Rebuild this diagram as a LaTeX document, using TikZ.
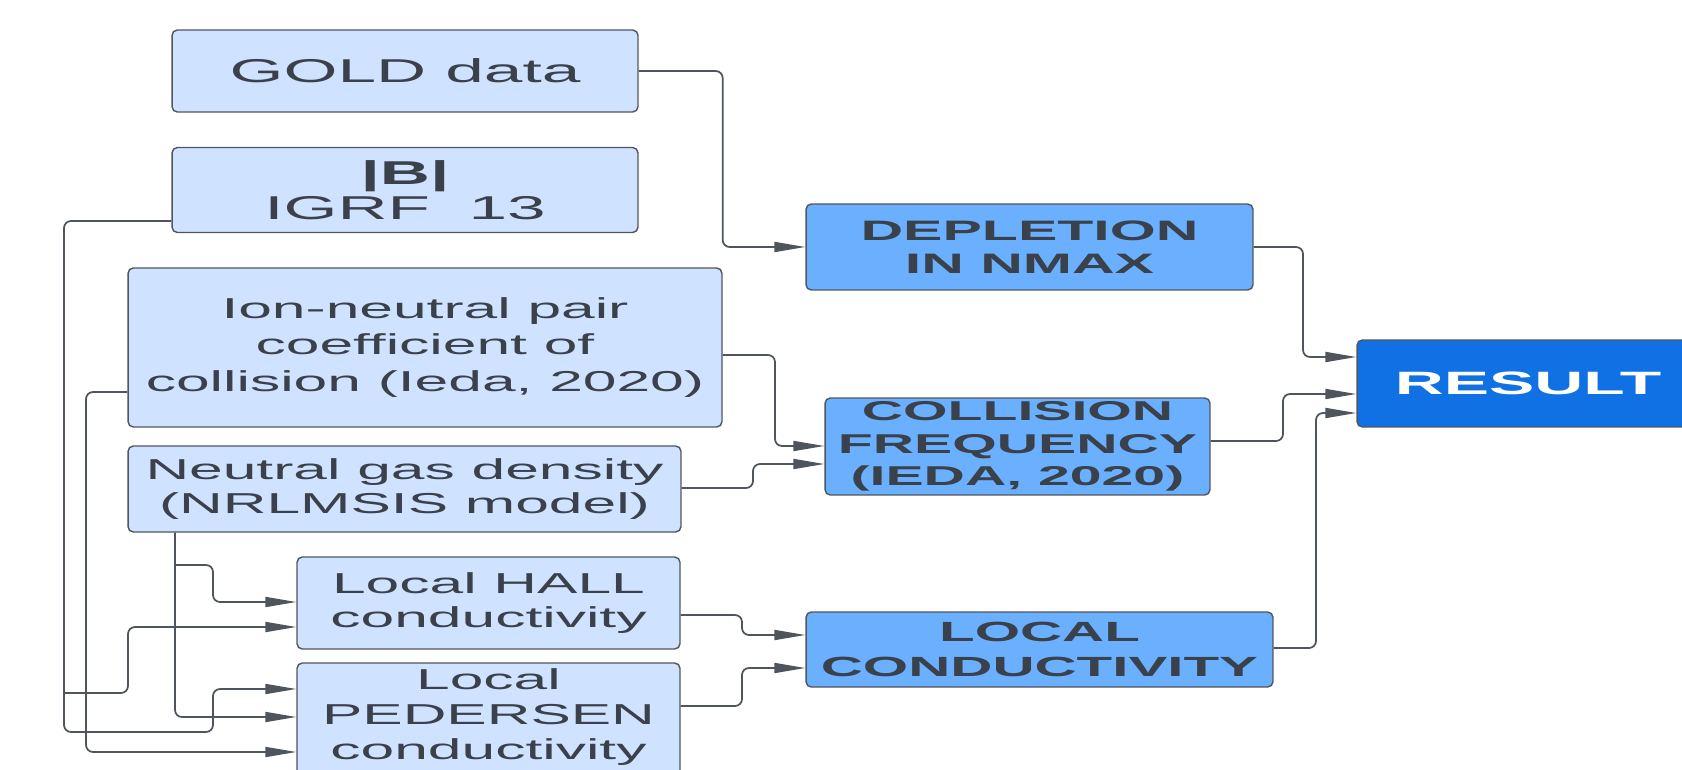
\documentclass[tikz,border=0pt]{standalone}
\usepackage{fontspec}
\usetikzlibrary{arrows.meta}

\newfontfamily\chartfont[FakeStretch=2.1]{Liberation Sans}

\definecolor{pale}{HTML}{CFE2FF}
\definecolor{mid}{HTML}{6AB0FF}
\definecolor{deep}{HTML}{1071E5}
\definecolor{edge}{HTML}{50565E}
\definecolor{ink}{HTML}{3A414A}
\definecolor{wirec}{HTML}{4F555D}

\begin{document}
\begin{tikzpicture}[x=0.02cm, y=-0.02cm,
		box/.style={draw=edge, fill=pale, rounded corners=3pt, line width=0.8pt, inner sep=0pt, align=center, text=ink},
		big/.style={font=\chartfont\fontsize{18.8}{20}\selectfont},
		small/.style={font=\chartfont\fontsize{16.4}{19.8}\selectfont},
		midbox/.style={box, fill=mid, font=\chartfont\bfseries\fontsize{16}{18.5}\selectfont},
		wire/.style={draw=wirec, line width=1pt, rounded corners=4pt},
		arr/.style={wire, -{Triangle[length=0.62cm, width=0.2cm]}}]

		\useasboundingbox (0,0) rectangle (1682,770);

		% inputs
		\draw (405,71) node[box, big, minimum width=9.32cm, minimum height=1.64cm] (gold) {GOLD data};
		\draw (405,190) node[box, big, minimum width=9.32cm, minimum height=1.7cm] (igrf) {\textbf{|B|}\\IGRF\ \ 13};
		\draw (425,347.5) node[box, font=\chartfont\fontsize{16.4}{20.6}\selectfont, minimum width=11.88cm, minimum height=3.18cm] (ion) {Ion-neutral pair\\coefficient of\\collision (Ieda, 2020)};
		\draw (404.5,489) node[box, small, minimum width=11.06cm, minimum height=1.72cm] (neutral) {Neutral gas density\\(NRLMSIS model)};
		\draw (488.5,603) node[box, small, minimum width=7.66cm, minimum height=1.84cm] (hall) {Local HALL\\conductivity};
		\draw (488.5,724) node[box, minimum width=7.66cm, minimum height=2.44cm,
			label={[small, text=ink, align=center, yshift=0.14cm]center:Local\\PEDERSEN\\conductivity}] (ped) {};

		% derived quantities
		\draw (1029.5,247) node[midbox, minimum width=8.94cm, minimum height=1.72cm] (depl) {DEPLETION\\IN NMAX};
		\draw (1017.5,446.5) node[midbox, font=\chartfont\bfseries\fontsize{15.5}{18.5}\selectfont, minimum width=7.7cm, minimum height=1.94cm] (coll) {COLLISION\\FREQUENCY\\(IEDA, 2020)};
		\draw (1039.5,649.5) node[midbox, font=\chartfont\bfseries\fontsize{15.8}{19.5}\selectfont, minimum width=9.34cm, minimum height=1.5cm] (cond) {LOCAL\\CONDUCTIVITY};
		\draw (1528,383.5) node[box, fill=deep, text=white, font=\chartfont\bfseries\fontsize{18.4}{20}\selectfont, minimum width=6.84cm, minimum height=1.74cm] (result) {RESULT};

		% taps on the long feeds
		\coordinate (btap) at (64,693);
		\coordinate (ntap) at (175,565);

		\draw [arr] (gold.east) -- ++(84,0) |- (depl.west);
		\draw [arr] (igrf.west |- 0,221) -| (64,732) -| (213,689) -- (ped.west |- 0,689);
		\draw [arr] (btap) -| (128,627) -- (hall.west |- 0,627);
		\draw [arr] (ion.east |- 0,355) -| (775,446) -- (coll.west |- 0,446);
		\draw [arr] (ion.west |- 0,392) -| (86,752) -- (ped.west |- 0,752);
		\draw [arr] (neutral.east |- 0,488) -| (753,464) -- (coll.west |- 0,464);
		\draw [arr] (neutral.south -| 175,0) |- (ped.west |- 0,717);
		\draw [arr] (ntap) -| (213,602) -- (hall.west |- 0,602);

		\draw [arr] (hall.east |- 0,615) -| (742,635) -- (cond.west |- 0,635);
		\draw [arr] (ped.east |- 0,706) -| (742,668) -- (cond.west |- 0,668);

		\draw [arr] (depl.east) -| (1303,357) -- (result.west |- 0,357);
		\draw [arr] (coll.east |- 0,441) -| (1283,394) -- (result.west |- 0,394);
		\draw [arr] (cond.east |- 0,648) -| (1316,413) -- (result.west |- 0,413);
	\end{tikzpicture}
\end{document}
